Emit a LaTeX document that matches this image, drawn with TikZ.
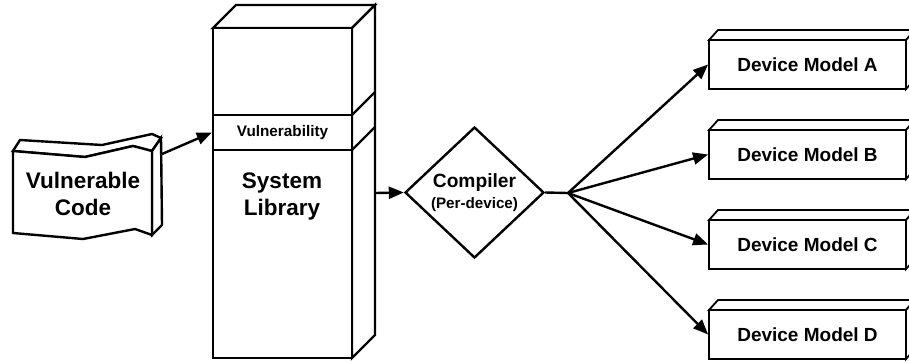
\documentclass[tikz,border=0pt]{standalone}
\usepackage{fontspec}
\setmainfont{Liberation Sans}
\usetikzlibrary{shapes.geometric,arrows.meta}
\begin{document}
\begin{tikzpicture}[x=1pt,y=-1pt,
  outline/.style={draw=black,line width=2.4pt,line join=miter,fill=white},
  thinbox/.style={draw=black,line width=1.8pt,fill=white},
  devbox/.style={thinbox,minimum width=197pt,minimum height=49pt,inner sep=0pt,font=\bfseries\fontsize{19}{22}\selectfont},
  bigtxt/.style={font=\bfseries\fontsize{22.5}{27}\selectfont,align=center,inner sep=0pt},
  arr/.style={line width=2.4pt,-{Triangle[length=15pt,width=12pt]}},
  conn/.style={line width=2.4pt}]
\useasboundingbox (0,0) rectangle (909,362);

% Vulnerable code (3D tape shape)
\draw[outline] (13,151) -- (20,140) -- (102,145) -- (152,134) -- (161,138) -- (152,151) -- (133,146) -- (85,157) -- cycle;
\draw[outline] (152,151) -- (161,138) -- (162,225) -- (152,235) -- cycle;
\draw[outline] (13,151) -- (85,157) -- (133,146) -- (152,151) -- (152,235) -- (135,229) -- (83,239) -- (13,233) -- cycle;
\node[bigtxt] (vc) at (83,194) {Vulnerable\\Code};
\coordinate (vcout) at (162,154);

% System library
\draw[outline] (213,28) -- (236,5) -- (375,5) -- (352,28) -- cycle;
\draw[outline] (352,28) -- (375,5) -- (375,335) -- (352,358) -- cycle;
\node[outline,minimum width=139pt,minimum height=330pt,inner sep=0pt] (lib) at (282.5,193) {};
\node[outline,minimum width=139pt,minimum height=35pt,inner sep=0pt,font=\bfseries\fontsize{15.3}{18}\selectfont] (vul) at (282.5,132.5) {Vulnerability};
\draw[outline] (352,115) -- (375,92);
\draw[outline] (352,150) -- (375,127);
\node[bigtxt] (libtxt) at (282,196) {System\\Library};
\coordinate (libout) at (375,193);

% Compiler
\node[shape=diamond,draw=black,line width=2.4pt,fill=white,minimum width=139pt,minimum height=131pt,inner sep=0pt,aspect=1.06] (comp) at (474.5,192.5) {};
\node[font=\bfseries\fontsize{19.2}{22}\selectfont] (comptxt) at (474.5,183) {Compiler};
\node[font=\bfseries\fontsize{15.2}{18}\selectfont] (compsub) at (474.5,205) {(Per-device)};
\coordinate (fan) at (568,193);

% Device boxes
\foreach \n/\y in {A/64.5,B/154.5,C/244.5,D/334.5}{
  \draw[thinbox] (709,\y-24.5) -- (718,\y-34.5) -- (915,\y-34.5) -- (906,\y-24.5) -- cycle;
  \draw[thinbox] (906,\y-24.5) -- (915,\y-34.5) -- (915,\y+14.5) -- (906,\y+24.5) -- cycle;
  \node[devbox] (dev\n) at (807.5,\y) {Device Model \n};
}

% Connectors
\draw[arr] (vcout) -- (vul.west);
\draw[arr] (libout) -- (comp.west);
\draw[conn] (comp.east) -- (fan);
\foreach \n in {A,B,C,D}{
  \draw[arr] (fan) -- (dev\n.west);
}
\end{tikzpicture}
\end{document}
